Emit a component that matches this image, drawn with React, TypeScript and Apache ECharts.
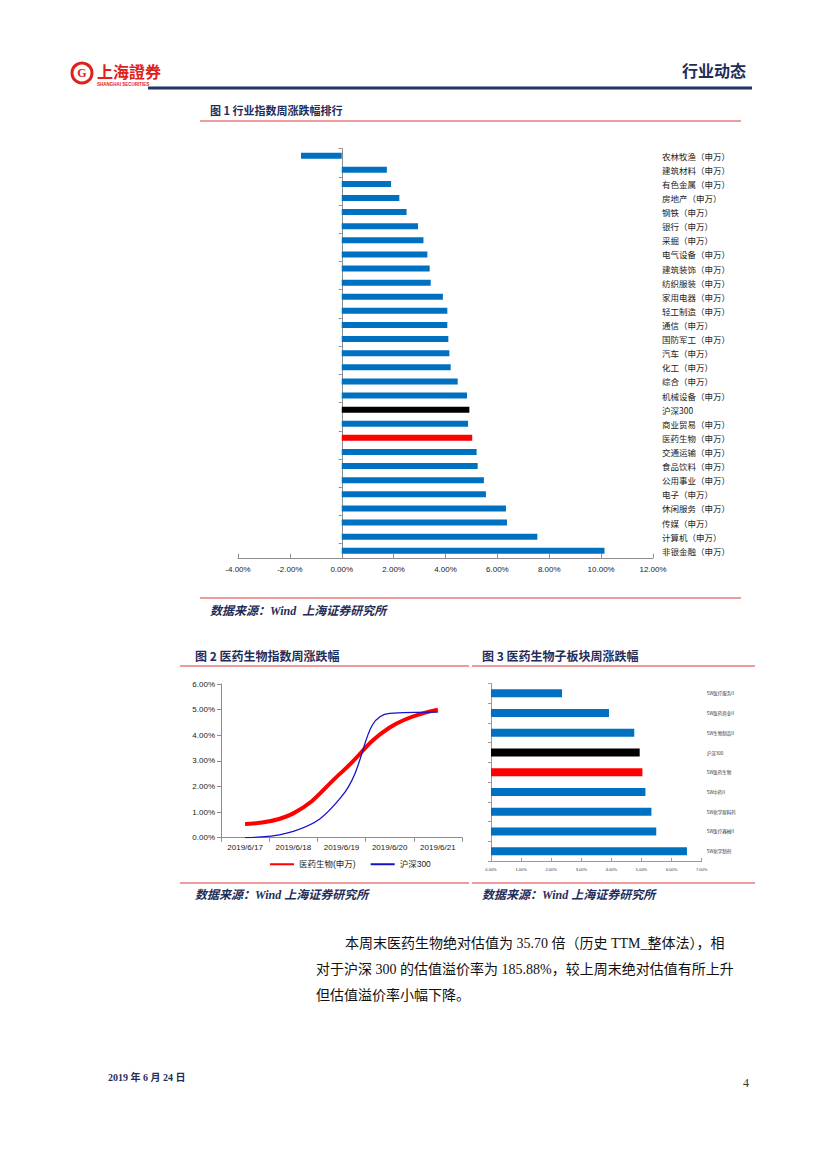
import React, { useEffect, useRef } from "react";
import * as echarts from "echarts";

const industries = [
  "农林牧渔（申万）", "建筑材料（申万）", "有色金属（申万）", "房地产（申万）", "钢铁（申万）",
  "银行（申万）", "采掘（申万）", "电气设备（申万）", "建筑装饰（申万）", "纺织服装（申万）",
  "家用电器（申万）", "轻工制造（申万）", "通信（申万）", "国防军工（申万）", "汽车（申万）",
  "化工（申万）", "综合（申万）", "机械设备（申万）", "沪深300", "商业贸易（申万）",
  "医药生物（申万）", "交通运输（申万）", "食品饮料（申万）", "公用事业（申万）", "电子（申万）",
  "休闲服务（申万）", "传媒（申万）", "计算机（申万）", "非银金融（申万）",
];
const industryChanges = [
  -1.57, 1.74, 1.9, 2.22, 2.5, 2.94, 3.15, 3.3, 3.39, 3.43, 3.9, 4.07, 4.07, 4.11, 4.15,
  4.2, 4.47, 4.83, 4.92, 4.87, 5.03, 5.2, 5.24, 5.48, 5.56, 6.33, 6.37, 7.54, 10.13,
];
const chart1Ticks = [-4, 12, 2]; // min, max, interval

const dates = ["2019/6/17", "2019/6/18", "2019/6/19", "2019/6/20", "2019/6/21"];
const medSeries = [0.53, 0.95, 2.55, 4.3, 5.0];
const hs300Series = [0.0, 0.25, 1.6, 4.85, 4.9];

const subSectors = [
  "SW医疗服务II", "SW医药商业II", "SW生物制品II", "沪深300", "SW医药生物",
  "SW中药II", "SW化学原料药", "SW医疗器械II", "SW化学制剂",
];
const subChanges = [2.36, 3.92, 4.76, 4.94, 5.03, 5.13, 5.33, 5.49, 6.51];

const BLUE = "#0070C0";
const NAVY = "#1F2D5A";
const REDLINE = "#E0393B";
const CJK = "'Noto Sans CJK SC', sans-serif";
const SERIF = "'Liberation Serif', 'Noto Sans CJK SC', serif";
const SANS = "'Liberation Sans', 'Noto Sans CJK SC', sans-serif";

function barColor(name: string) {
  if (name === "沪深300") return "#000000";
  if (name.indexOf("医药生物") >= 0) return "#FF0000";
  return BLUE;
}

export default function App() {
  const ref = useRef<HTMLDivElement>(null);
  useEffect(() => {
    if (!ref.current) return;
    const chart = echarts.init(ref.current, null, { renderer: "svg" });
    const pct = (v: number) => v.toFixed(2) + "%";

    const txt = (text: string, x: number, y: number, font: string, fill = "#000", align = "left") => ({
      type: "text",
      x,
      y,
      style: { text, font, fill, align, verticalAlign: "middle" },
    });
    const ln = (x1: number, y1: number, x2: number, y2: number, stroke: string, lw: number) => ({
      type: "line",
      shape: { x1, y1, x2, y2 },
      style: { stroke, lineWidth: lw },
    });

    const option: any = {
      animation: false,
      backgroundColor: "#ffffff",
      grid: [
        { left: 238, right: 827 - 653, top: 148.6, bottom: 1169 - 557.8 },
        { left: 221, right: 827 - 462, top: 684, bottom: 1169 - 837.7 },
        { left: 491, right: 827 - 701.7, top: 683.5, bottom: 1169 - 861 },
      ],
      xAxis: [
        {
          gridIndex: 0,
          type: "value",
          min: chart1Ticks[0],
          max: chart1Ticks[1],
          interval: chart1Ticks[2],
          splitLine: { show: false },
          axisLine: { show: true, lineStyle: { color: "#8c8c8c" } },
          axisTick: { show: true, inside: true, length: 4, lineStyle: { color: "#8c8c8c" } },
          axisLabel: { formatter: pct, fontSize: 8, color: "#222", fontFamily: SANS, margin: 8 },
        },
        {
          gridIndex: 1,
          type: "category",
          data: dates,
          boundaryGap: true,
          axisLine: { lineStyle: { color: "#8c8c8c" } },
          axisTick: { show: true, length: 4, lineStyle: { color: "#8c8c8c" } },
          axisLabel: { fontSize: 8, color: "#222", fontFamily: SANS, margin: 6 },
        },
        {
          gridIndex: 2,
          type: "value",
          min: 0,
          max: 7,
          interval: 1,
          splitLine: { show: false },
          axisLine: { show: true, lineStyle: { color: "#9a9a9a" } },
          axisTick: { show: true, inside: true, length: 3, lineStyle: { color: "#9a9a9a" } },
          axisLabel: { formatter: pct, fontSize: 4, color: "#333", fontFamily: SANS, margin: 6 },
        },
      ],
      yAxis: [
        {
          gridIndex: 0,
          type: "category",
          data: industries,
          inverse: true,
          axisLine: { show: true, onZero: true, lineStyle: { color: "#8c8c8c" } },
          axisTick: { show: true, length: 3, lineStyle: { color: "#8c8c8c" } },
          axisLabel: { show: false },
        },
        {
          gridIndex: 0,
          type: "category",
          data: industries,
          inverse: true,
          position: "right",
          axisLine: { show: false },
          axisTick: { show: false },
          axisLabel: { show: true, fontSize: 8.5, color: "#222", fontFamily: CJK, margin: 9 },
        },
        {
          gridIndex: 1,
          type: "value",
          min: 0,
          max: 6,
          interval: 1,
          splitLine: { show: false },
          axisLine: { show: true, lineStyle: { color: "#8c8c8c" } },
          axisTick: { show: true, length: 4, lineStyle: { color: "#8c8c8c" } },
          axisLabel: { formatter: pct, fontSize: 8, color: "#222", fontFamily: SANS, margin: 6 },
        },
        {
          gridIndex: 2,
          type: "category",
          data: subSectors,
          inverse: true,
          axisLine: { show: true, lineStyle: { color: "#9a9a9a" } },
          axisTick: { show: true, length: 3, lineStyle: { color: "#9a9a9a" } },
          axisLabel: { show: false },
        },
        {
          gridIndex: 2,
          type: "category",
          data: subSectors,
          inverse: true,
          position: "right",
          axisLine: { show: false },
          axisTick: { show: false },
          axisLabel: { show: true, fontSize: 4.5, color: "#333", fontFamily: CJK, margin: 5 },
        },
      ],
      legend: {
        top: 855,
        left: 264,
        itemWidth: 24,
        itemHeight: 10,
        itemGap: 14,
        itemStyle: { opacity: 0 },
        data: ["医药生物(申万)", "沪深300"],
        textStyle: { fontSize: 8.5, color: "#222", fontFamily: SANS },
      },
      series: [
        {
          type: "bar",
          xAxisIndex: 0,
          yAxisIndex: 0,
          barWidth: 6,
          data: industryChanges.map((v, i) => ({ value: v, itemStyle: { color: barColor(industries[i]) } })),
        },
        {
          name: "医药生物(申万)",
          type: "line",
          xAxisIndex: 1,
          yAxisIndex: 2,
          smooth: 0.45,
          symbol: "none",
          data: medSeries,
          lineStyle: { color: "#FF0000", width: 4 },
          itemStyle: { color: "#FF0000" },
          z: 3,
        },
        {
          name: "沪深300",
          type: "line",
          xAxisIndex: 1,
          yAxisIndex: 2,
          smooth: 0.45,
          symbol: "none",
          data: hs300Series,
          lineStyle: { color: "#1414C8", width: 1.3 },
          itemStyle: { color: "#1414C8" },
          z: 4,
        },
        {
          type: "bar",
          xAxisIndex: 2,
          yAxisIndex: 3,
          barWidth: 8,
          data: subChanges.map((v, i) => ({ value: v, itemStyle: { color: barColor(subSectors[i]) } })),
        },
      ],
      graphic: [
        { type: "circle", shape: { cx: 82, cy: 73, r: 10 }, style: { fill: "none", stroke: "#E0201B", lineWidth: 3 } },
        txt("G", 82, 73, "bold 12px " + SERIF, "#E0201B", "center"),
        txt("上海證券", 97, 71, "bold 16px " + CJK, "#E0201B"),
        txt("SHANGHAI SECURITIES", 97, 84, "bold 4.5px " + SANS, "#E0201B"),
        txt("行业动态", 746, 70, "bold 16px " + CJK, NAVY, "right"),
        ln(148, 88, 752, 88, "#1F3864", 3),
        txt("图 1 行业指数周涨跌幅排行", 210, 110, "bold 11px " + CJK, NAVY),
        ln(200, 121, 741, 121, REDLINE, 1),
        ln(200, 598, 741, 598, REDLINE, 1),
        txt("数据来源：Wind  上海证券研究所", 210, 611, "italic bold 12px " + SERIF, NAVY),
        txt("图 2 医药生物指数周涨跌幅", 195, 655, "bold 12px " + CJK, NAVY),
        txt("图 3 医药生物子板块周涨跌幅", 482, 655, "bold 12px " + CJK, NAVY),
        ln(180, 666, 469, 666, REDLINE, 1),
        ln(472, 666, 755, 666, REDLINE, 1),
        ln(180, 883, 469, 883, REDLINE, 1),
        ln(472, 883, 755, 883, REDLINE, 1),
        txt("数据来源：Wind 上海证券研究所", 195, 895, "italic bold 12px " + SERIF, NAVY),
        txt("数据来源：Wind 上海证券研究所", 482, 895, "italic bold 12px " + SERIF, NAVY),
        txt("本周末医药生物绝对估值为 35.70 倍（历史 TTM_整体法），相", 345, 943, "14px " + SERIF, "#111"),
        txt("对于沪深 300 的估值溢价率为 185.88%，较上周末绝对估值有所上升", 316, 969, "14px " + SERIF, "#111"),
        txt("但估值溢价率小幅下降。", 316, 995, "14px " + SERIF, "#111"),
        txt("2019 年 6 月 24 日", 108, 1077, "bold 10px " + SERIF, NAVY),
        txt("4", 749, 1083, "12px " + SERIF, "#333", "right"),
      ],
    };
    chart.setOption(option);
    return () => chart.dispose();
  }, []);
  return (
    <div
      ref={ref}
      style={{ position: "absolute", left: 0, top: 0, width: 827, height: 1169, background: "#fff" }}
    />
  );
}
